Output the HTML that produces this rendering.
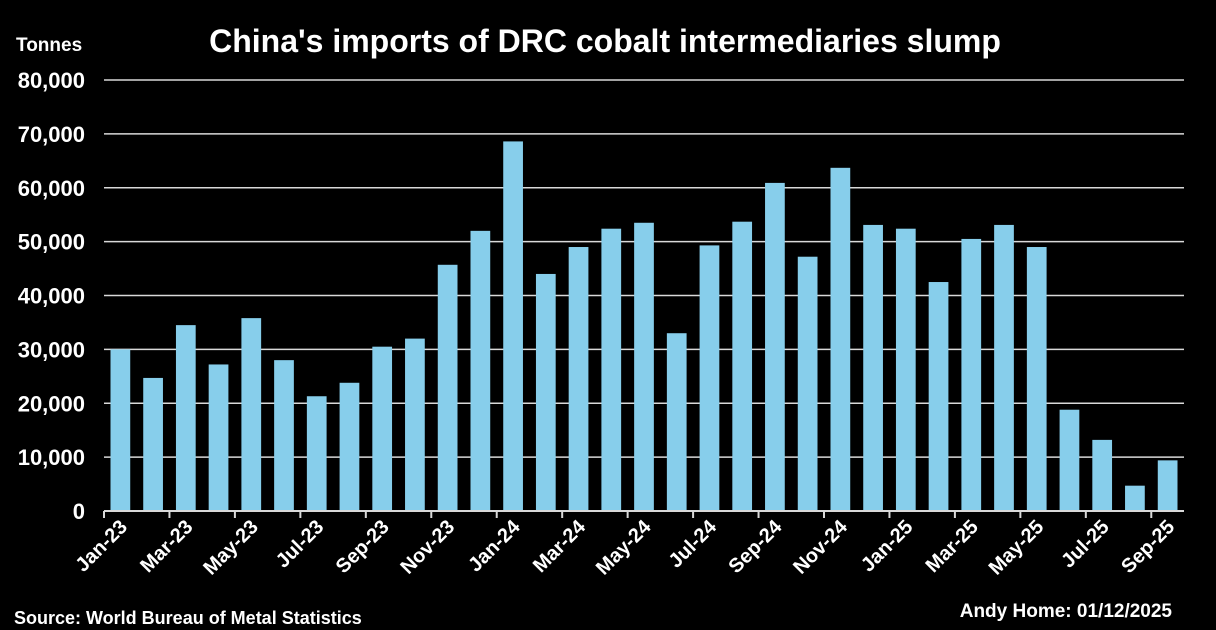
<!DOCTYPE html>
<html><head><meta charset="utf-8"><style>
html,body{margin:0;padding:0;background:#000;}
svg{display:block;font-family:"Liberation Sans",sans-serif;font-weight:bold;}
</style></head><body>
<svg id="c" width="1216" height="630" viewBox="0 0 1216 630">
<rect width="1216" height="630" fill="#000"/>
<text x="605" y="52" text-anchor="middle" fill="#fff" font-size="32">China's imports of DRC cobalt intermediaries slump</text>
<text x="16" y="51" fill="#fff" font-size="19">Tonnes</text>
<g id="grid"></g><g id="bars"></g><g id="xax"></g>
<text x="14" y="624" fill="#fff" font-size="18">Source: World Bureau of Metal Statistics</text>
<text x="1172" y="617" text-anchor="end" fill="#fff" font-size="19">Andy Home: 01/12/2025</text>
</svg>
<script>
const categories=["Jan-23","Feb-23","Mar-23","Apr-23","May-23","Jun-23","Jul-23","Aug-23","Sep-23","Oct-23","Nov-23","Dec-23","Jan-24","Feb-24","Mar-24","Apr-24","May-24","Jun-24","Jul-24","Aug-24","Sep-24","Oct-24","Nov-24","Dec-24","Jan-25","Feb-25","Mar-25","Apr-25","May-25","Jun-25","Jul-25","Aug-25","Sep-25"];
const values=[30000,24700,34500,27200,35800,28000,21300,23800,30500,32000,45700,52000,68600,44000,49000,52400,53500,33000,49300,53700,60900,47200,63700,53100,52400,42500,50500,53100,49000,18800,13200,4700,9400];
const yTicks=[0,10000,20000,30000,40000,50000,60000,70000,80000];
const tickLabels=["0","10,000","20,000","30,000","40,000","50,000","60,000","70,000","80,000"];
const NS="http://www.w3.org/2000/svg";
const x0=104,x1=1184,y0=511,y1=80,yMax=80000;
const step=(x1-x0)/categories.length;
const ys=v=>y0-(v/yMax)*(y0-y1);
const xs=i=>x0+i*step;
function mk(t,a,p){const e=document.createElementNS(NS,t);for(const k in a)e.setAttribute(k,a[k]);p.appendChild(e);return e;}
const grid=document.getElementById('grid');
yTicks.forEach((t,i)=>{
 if(t>0){const l=mk('line',{x1:x0,x2:x1,y1:ys(t),y2:ys(t),stroke:'#d9d9d9','stroke-width':1.5},grid);
 
 }
 const tx=mk('text',{x:85,y:ys(t)+8,'text-anchor':'end',fill:'#fff','font-size':22},grid);
 tx.textContent=tickLabels[i];
 
 
});
const bars=document.getElementById('bars');
values.forEach((v,i)=>{
 const r=mk('rect',{x:xs(i)+6.5,y:ys(v),width:step-13,height:y0-ys(v),fill:'#87ceeb'},bars);
 
 
});
const xax=document.getElementById('xax');
const ax=mk('line',{x1:x0,x2:x1,y1:y0,y2:y0,stroke:'#d9d9d9','stroke-width':2},xax);


for(let i=0;i<=categories.length;i+=2){
 const t=mk('line',{x1:xs(i),x2:xs(i),y1:y0,y2:y0+7,stroke:'#d9d9d9','stroke-width':2},xax);
 
 
}
categories.forEach((c,i)=>{
 if(i%2)return;
 const cx=xs(i)+step/2+8,cy=528;
 const tx=mk('text',{x:cx,y:cy,'text-anchor':'end',fill:'#fff','font-size':20,transform:`rotate(-45 ${cx} ${cy})`},xax);
 tx.textContent=c;
 
 
});
</script>
</body></html>
